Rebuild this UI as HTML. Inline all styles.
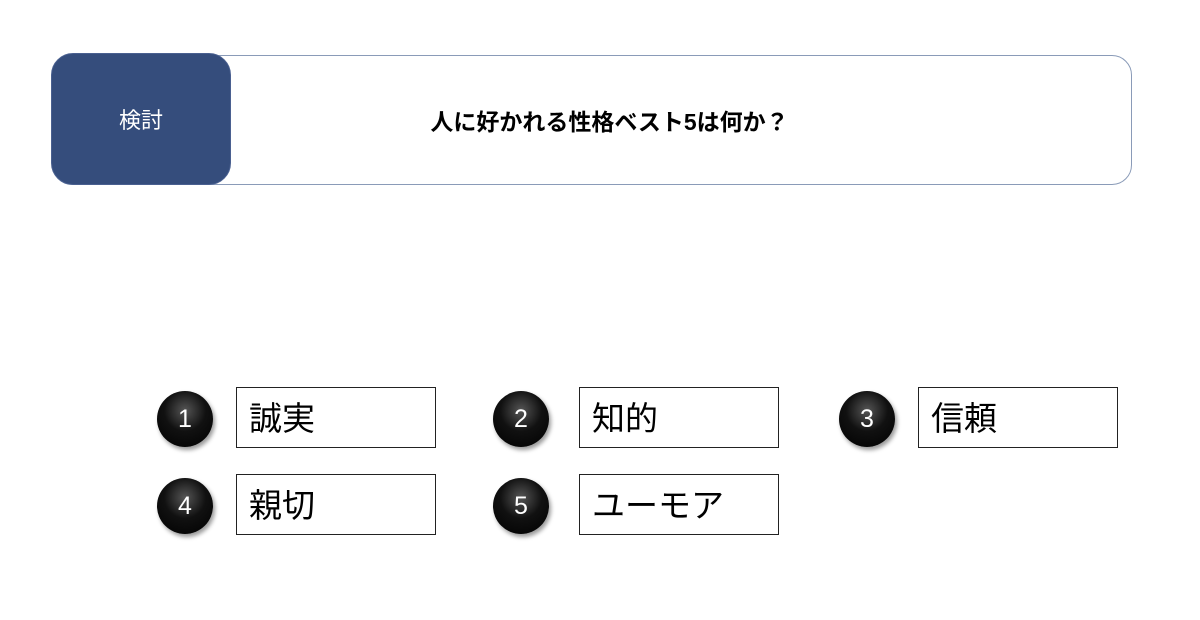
<!DOCTYPE html>
<html><head><meta charset="utf-8"><style>
body{margin:0;width:1200px;height:620px;background:#fff;position:relative;overflow:hidden;font-family:"Liberation Sans","Noto Sans CJK JP",sans-serif}
.outer{position:absolute;left:52px;top:55px;width:1078px;height:128px;border:1px solid #8a9bb8;border-radius:20px}
.tag{position:absolute;left:51px;top:53px;width:180px;height:132px;background:#354d7c;border:1px solid #4a6090;box-sizing:border-box;border-radius:22px;color:#fff;font-size:22px;display:flex;align-items:center;justify-content:center}
.title{position:absolute;left:231px;top:55px;width:757px;height:130px;display:flex;align-items:center;justify-content:center;font-weight:bold;font-size:23px;color:#000}
.c{position:absolute;width:56px;height:56px;border-radius:50%;background:radial-gradient(circle at 50% 35%,#555 0%,#111 45%,#000 100%);box-shadow:2px 3px 4px rgba(0,0,0,.4);color:#fff;font-size:25px;display:flex;align-items:center;justify-content:center}
.b{position:absolute;border:1.5px solid #222;font-size:33px;line-height:62px;padding-left:12px;box-sizing:border-box;width:200px;height:61px}
</style></head><body>
<div class="outer"></div>
<div class="tag">検討</div>
<div class="title">人に好かれる性格ベスト5は何か？</div>
<div class="c" style="left:157px;top:391px">1</div>
<div class="b" style="left:236px;top:387px">誠実</div>
<div class="c" style="left:493px;top:391px">2</div>
<div class="b" style="left:579px;top:387px">知的</div>
<div class="c" style="left:839px;top:391px">3</div>
<div class="b" style="left:918px;top:387px">信頼</div>
<div class="c" style="left:157px;top:478px">4</div>
<div class="b" style="left:236px;top:474px">親切</div>
<div class="c" style="left:493px;top:478px">5</div>
<div class="b" style="left:579px;top:474px">ユーモア</div>
</body></html>
